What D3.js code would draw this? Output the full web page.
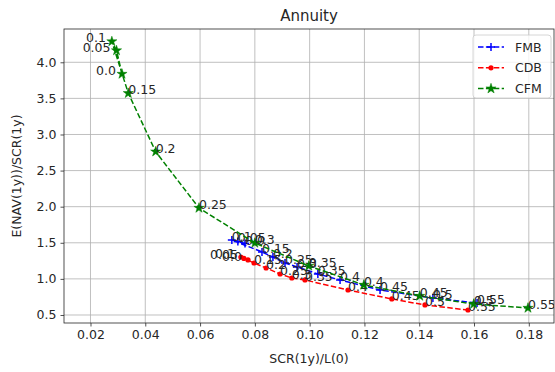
<!DOCTYPE html>
<html>
<head>
<meta charset="utf-8">
<script src="https://cdn.jsdelivr.net/npm/d3@7"></script>
<style>
  body { margin: 0; background: #fff; }
  text { font-family: "DejaVu Sans", sans-serif; fill: #262626; }
</style>
</head>
<body>
<svg id="chart" width="555" height="372"></svg>
<script>
// parameter behind each point (printed next to it)
var params = [0.0, 0.05, 0.1, 0.15, 0.2, 0.25, 0.3, 0.35, 0.4, 0.45, 0.5, 0.55];

// SCR(1y)/L(0)
var fmbX = [0.0764, 0.0738, 0.0716, 0.0826, 0.0866, 0.0910, 0.0954, 0.1030, 0.1111, 0.1257, 0.1450, 0.1611];
var cdbX = [0.0775, 0.0760, 0.0749, 0.0797, 0.0841, 0.0892, 0.0935, 0.0983, 0.1140, 0.1300, 0.1421, 0.1578];
var cfmX = [0.0315, 0.0295, 0.0278, 0.0338, 0.0438, 0.0596, 0.0800, 0.0997, 0.1198, 0.1402, 0.1599, 0.1797];

// E(NAV(1y))/SCR(1y)
var fmbY = [1.490, 1.518, 1.539, 1.373, 1.303, 1.220, 1.165, 1.068, 0.985, 0.846, 0.735, 0.666];
var cdbY = [1.262, 1.283, 1.303, 1.220, 1.151, 1.068, 1.012, 0.985, 0.846, 0.722, 0.639, 0.569];
var cfmY = [3.838, 4.163, 4.288, 3.571, 2.762, 1.982, 1.497, 1.179, 0.916, 0.763, 0.652, 0.597];

var xTicks = [0.02, 0.04, 0.06, 0.08, 0.10, 0.12, 0.14, 0.16, 0.18];
var yTicks = [0.5, 1.0, 1.5, 2.0, 2.5, 3.0, 3.5, 4.0];

var series = [
  { name: "FMB", xs: fmbX, ys: fmbY, color: "#0000ff", marker: "plus", leftLabels: [] },
  { name: "CDB", xs: cdbX, ys: cdbY, color: "#ff0000", marker: "dot", leftLabels: [0.0, 0.05, 0.1] },
  { name: "CFM", xs: cfmX, ys: cfmY, color: "#008000", marker: "star", leftLabels: [0.0, 0.05, 0.1] }
];

var margin = { left: 64, top: 29, right: 1, bottom: 49 };
var W = 555, H = 372;
var svg = d3.select("#chart");

var x = d3.scaleLinear().domain([0.01033, 0.1892]).range([margin.left, W - margin.right]);
var y = d3.scaleLinear().domain([0.389, 4.461]).range([H - margin.bottom, margin.top]);

// grid
svg.append("g").selectAll("line").data(xTicks).enter().append("line")
  .attr("x1", d => x(d)).attr("x2", d => x(d))
  .attr("y1", y.range()[0]).attr("y2", y.range()[1])
  .style("stroke", "#b0b0b0").style("stroke-width", 0.8);
svg.append("g").selectAll("line").data(yTicks).enter().append("line")
  .attr("y1", d => y(d)).attr("y2", d => y(d))
  .attr("x1", x.range()[0]).attr("x2", x.range()[1])
  .style("stroke", "#b0b0b0").style("stroke-width", 0.8);

// axes
var xAxis = svg.append("g")
  .attr("transform", "translate(0," + (H - margin.bottom) + ")")
  .call(d3.axisBottom(x).tickValues(xTicks).tickFormat(d3.format(".2f")).tickSizeOuter(0).tickSize(3.5).tickPadding(4));
var yAxis = svg.append("g")
  .attr("transform", "translate(" + margin.left + ",0)")
  .call(d3.axisLeft(y).tickValues(yTicks).tickFormat(d3.format(".1f")).tickSizeOuter(0).tickSize(3.5).tickPadding(4));
[xAxis, yAxis].forEach(function (a) {
  a.select(".domain").remove();
  a.selectAll("text").style("font-size", "12.5px").style("font-family", "DejaVu Sans").attr("fill", "#262626");
  a.selectAll("line").style("stroke", "#262626").style("stroke-width", 0.8);
});

svg.append("clipPath").attr("id", "plotclip").append("rect")
  .attr("x", margin.left).attr("y", margin.top)
  .attr("width", W - margin.left - margin.right).attr("height", H - margin.top - margin.bottom);

var plot = svg.append("g").attr("clip-path", "url(#plotclip)");
var star = d3.symbol().type(d3.symbolStar).size(32);

series.forEach(function (s) {
  var pts = params.map((p, i) => ({ p: p, x: s.xs[i], y: s.ys[i] }));
  var line = d3.line().x(d => x(d.x)).y(d => y(d.y));
  plot.append("path").datum(pts)
    .attr("d", line)
    .style("fill", "none").style("stroke", s.color)
    .style("stroke-width", 1.5).style("stroke-dasharray", "5.5,2.4");

  var g = plot.append("g").selectAll("g").data(pts).enter().append("g")
    .attr("transform", d => "translate(" + x(d.x) + "," + y(d.y) + ")");
  drawMarker(g, s.marker, s.color);

  plot.append("g").selectAll("text").data(pts).enter().append("text")
    .attr("x", d => s.leftLabels.indexOf(d.p) >= 0 ? x(d.x) - 6 : x(d.x))
    .attr("y", d => y(d.y) + 1)
    .attr("text-anchor", d => s.leftLabels.indexOf(d.p) >= 0 ? "end" : "start")
    .style("font-size", "12.5px")
    .text(d => String(+d.p.toFixed(2)).replace(/^0$/, "0.0"));
});

function drawMarker(sel, kind, color) {
  if (kind === "plus") {
    sel.append("path").attr("d", "M-4,0H4M0,-4V4")
      .style("stroke", color).style("stroke-width", 1.5);
  } else if (kind === "dot") {
    sel.append("circle").attr("r", 2.6).style("fill", color);
  } else {
    sel.append("path").attr("d", star).style("fill", color).style("stroke", color).style("stroke-width", 0.5);
  }
}

// frame
svg.append("rect")
  .attr("x", margin.left).attr("y", margin.top)
  .attr("width", W - margin.left - margin.right).attr("height", H - margin.top - margin.bottom)
  .style("fill", "none").style("stroke", "#262626").style("stroke-width", 0.8);

// title and axis labels
svg.append("text").attr("x", (margin.left + W - margin.right) / 2).attr("y", 21)
  .attr("text-anchor", "middle").style("font-size", "15px").text("Annuity");
svg.append("text").attr("x", (margin.left + W - margin.right) / 2).attr("y", 363)
  .attr("text-anchor", "middle").style("font-size", "12.5px").text("SCR(1y)/L(0)");
svg.append("text")
  .attr("transform", "translate(21," + ((margin.top + H - margin.bottom) / 2) + ") rotate(-90)")
  .attr("text-anchor", "middle").style("font-size", "12.5px").text("E(NAV(1y))/SCR(1y)");

// legend
var lg = svg.append("g").attr("transform", "translate(473,35)");
lg.append("rect").attr("width", 78).attr("height", 63).attr("rx", 3)
  .style("fill", "rgba(255,255,255,0.8)").style("stroke", "#cccccc").style("stroke-width", 0.8);
series.forEach(function (s, i) {
  var ly = 12 + i * 20.8;
  lg.append("line").attr("x1", 5).attr("x2", 31).attr("y1", ly).attr("y2", ly)
    .style("stroke", s.color).style("stroke-width", 1.5).style("stroke-dasharray", "5.5,2.4");
  var m = lg.append("g").attr("transform", "translate(18," + ly + ")");
  drawMarker(m, s.marker, s.color);
  lg.append("text").attr("x", 42).attr("y", ly + 4.5).style("font-size", "12.5px").text(s.name);
});
</script>
</body>
</html>
